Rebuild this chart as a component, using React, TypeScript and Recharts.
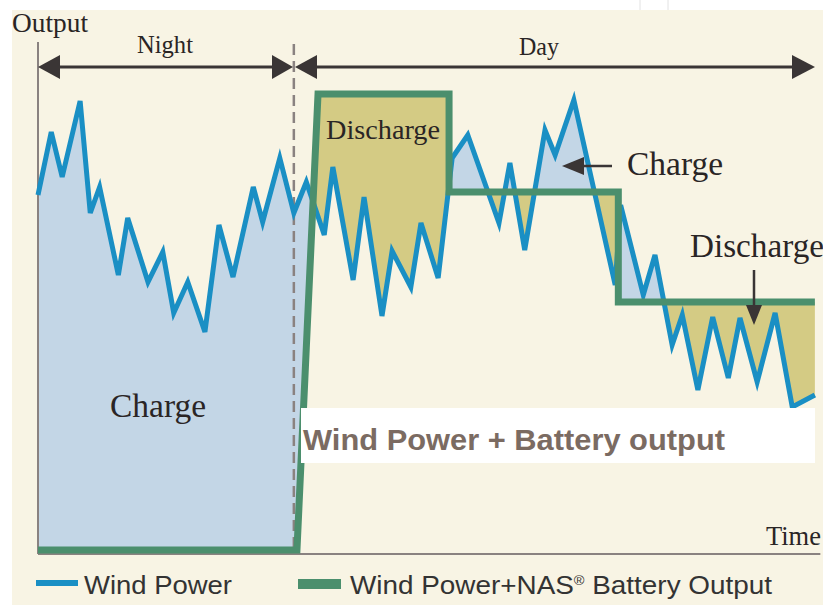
import { ComposedChart, Area, Line, XAxis, YAxis, ReferenceLine } from 'recharts';

// Wind power (blue line) vertices: time and output
const windTime = [0, 1.7, 3.1, 5.4, 6.7, 7.9, 10.3, 11.5, 14.1, 16.0, 17.4, 19.2, 21.4, 23.2, 25.0, 27.6, 28.8, 31.0, 32.8, 34.4, 36.7, 37.8, 40.4, 41.8, 44.1, 45.4, 47.8, 49.1, 51.3, 53.1, 55.1, 59.1, 60.5, 62.4, 65.0, 66.3, 68.7, 74.0, 74.7, 77.6, 79.1, 81.3, 82.6, 84.6, 86.5, 88.5, 90.0, 92.2, 94.5, 96.7, 99.6];
const windPower = [71.0, 83.6, 74.6, 89.8, 67.4, 72.6, 55.0, 66.4, 53.6, 59.6, 47.4, 53.6, 43.6, 65.0, 54.6, 72.6, 65.6, 78.4, 67.4, 73.6, 63.0, 76.6, 54.0, 70.6, 46.8, 59.8, 52.6, 65.4, 54.4, 78.4, 83.0, 65.4, 77.4, 60.0, 84.0, 79.0, 90.0, 53.0, 69.0, 51.0, 59.0, 41.0, 47.0, 32.0, 46.6, 34.4, 46.4, 33.6, 47.4, 28.6, 31.0];

// Wind power + NAS battery output (green step line)
const outTime = [0, 33.2, 35.9, 52.7, 52.7, 74.4, 74.4, 99.6];
const outPower = [0, 0, 91.2, 91.2, 71.6, 71.6, 49.6, 49.6];

const nightEnd = 32.8;

const lerp = (ts: number[], vs: number[], t: number) => {
  for (let i = 0; i < ts.length - 1; i++) {
    if (t >= ts[i] && t <= ts[i + 1] && ts[i + 1] > ts[i]) {
      return vs[i] + ((vs[i + 1] - vs[i]) * (t - ts[i])) / (ts[i + 1] - ts[i]);
    }
  }
  return vs[vs.length - 1];
};

// merge both series on one time grid (steps give two rows at the same time)
const times = Array.from(new Set([...windTime, ...outTime])).sort((a, b) => a - b);
const base: any[] = [];
times.forEach((t) => {
  const w = lerp(windTime, windPower, t);
  const steps = outTime.map((x, i) => (x === t ? outPower[i] : null)).filter((v) => v !== null);
  if (steps.length > 1) steps.forEach((o) => base.push({ t, w, o }));
  else base.push({ t, w, o: lerp(outTime, outPower, t) });
});

// add the points where the two lines cross so the fills split cleanly
const rows: any[] = [];
base.forEach((r, i) => {
  if (i > 0) {
    const p = base[i - 1];
    const d1 = p.w - p.o;
    const d2 = r.w - r.o;
    if (d1 * d2 < 0 && r.t > p.t) {
      const f = d1 / (d1 - d2);
      const v = p.w + f * (r.w - p.w);
      rows.push({ t: p.t + f * (r.t - p.t), w: v, o: v });
    }
  }
  rows.push(r);
});
rows.forEach((r) => {
  r.charge = [r.o, Math.max(r.w, r.o)];
  r.discharge = [Math.min(r.w, r.o), r.o];
});

const serif = '"Liberation Serif", "Times New Roman", serif';
const sans = '"Liberation Sans", Arial, sans-serif';
const ink = '#2a2525';

export default function App() {
  return (
    <div style={{ position: 'absolute', left: 0, top: 0, width: 823, height: 605, background: '#fff' }}>
      <div style={{ position: 'absolute', left: 12, top: 10, width: 811, height: 595, background: '#f8f4e4' }} />
      <div style={{ position: 'absolute', left: 0, top: 0 }}>
        <ComposedChart width={823} height={605} data={rows} margin={{ top: 50, right: 5, bottom: 50, left: 38 }}>
          <XAxis type="number" dataKey="t" domain={[0, 100]} hide />
          <YAxis type="number" domain={[-1, 100]} hide />
          <Area type="linear" dataKey="charge" fill="#c3d6e6" fillOpacity={1} stroke="none" isAnimationActive={false} />
          <Area type="linear" dataKey="discharge" fill="#d4cb84" fillOpacity={1} stroke="none" isAnimationActive={false} />
          <ReferenceLine segment={[{ x: nightEnd, y: 0.4 }, { x: nightEnd, y: 102.4 }]} stroke="#8a8280" strokeWidth={2.5} strokeDasharray="11 6" ifOverflow="visible" />
          <ReferenceLine segment={[{ x: 0, y: -0.8 }, { x: 0, y: 101.6 }]} stroke="#8a8280" strokeWidth={2} ifOverflow="visible" />
          <ReferenceLine segment={[{ x: 0, y: -0.8 }, { x: 100.3, y: -0.8 }]} stroke="#8a8280" strokeWidth={2} ifOverflow="visible" />
          <Line type="linear" dataKey="w" stroke="#1a8fc4" strokeWidth={5} dot={false} isAnimationActive={false} />
          <Line type="linear" dataKey="o" stroke="#4b8f6d" strokeWidth={7} dot={false} isAnimationActive={false} />
        </ComposedChart>
      </div>
      <svg width={823} height={605} style={{ position: 'absolute', left: 0, top: 0, pointerEvents: 'none' }}>
        <line x1={640} y1={0} x2={640} y2={10} stroke="#e2e2e2" strokeWidth={1} />
        <line x1={668} y1={0} x2={668} y2={10} stroke="#e2e2e2" strokeWidth={1} />
        <text x={12} y={32} fontFamily={serif} fontSize={27} fill={ink} textLength={76} lengthAdjust="spacingAndGlyphs">Output</text>
        <text x={137} y={53} fontFamily={serif} fontSize={25} fill={ink} textLength={56} lengthAdjust="spacingAndGlyphs">Night</text>
        <text x={519} y={55} fontFamily={serif} fontSize={25} fill={ink} textLength={40} lengthAdjust="spacingAndGlyphs">Day</text>
        {/* night / day arrows */}
        <line x1={55} y1={67} x2={280} y2={67} stroke="#3a3535" strokeWidth={3} />
        <polygon points="38,67 60,55 60,79" fill="#3a3535" />
        <polygon points="293,67 272,55 272,79" fill="#3a3535" />
        <line x1={310} y1={67} x2={800} y2={67} stroke="#3a3535" strokeWidth={3} />
        <polygon points="295,67 317,55 317,79" fill="#3a3535" />
        <polygon points="815,67 792,55 792,79" fill="#3a3535" />
        <text x={326} y={139} fontFamily={serif} fontSize={28} fill={ink} textLength={114} lengthAdjust="spacingAndGlyphs">Discharge</text>
        <line x1={578} y1={166} x2={612} y2={166} stroke="#3a3535" strokeWidth={2.5} />
        <polygon points="562,166 584,157 584,175" fill="#3a3535" />
        <text x={627} y={175} fontFamily={serif} fontSize={33} fill={ink} textLength={96} lengthAdjust="spacingAndGlyphs">Charge</text>
        <text x={690} y={257} fontFamily={serif} fontSize={33} fill={ink} textLength={134} lengthAdjust="spacingAndGlyphs">Discharge</text>
        <line x1={754} y1={270} x2={754} y2={310} stroke="#3a3535" strokeWidth={2.5} />
        <polygon points="754,325 746,305 762,305" fill="#3a3535" />
        <text x={110} y={417} fontFamily={serif} fontSize={33} fill={ink} textLength={96} lengthAdjust="spacingAndGlyphs">Charge</text>
        <text x={766} y={545} fontFamily={serif} fontSize={27} fill={ink} textLength={55} lengthAdjust="spacingAndGlyphs">Time</text>
        <rect x={301} y={408} width={514} height={55} fill="#ffffff" />
        <text x={303} y={450} fontFamily={sans} fontWeight="bold" fontSize={30} fill="#7b6b62" textLength={422} lengthAdjust="spacingAndGlyphs">Wind Power + Battery output</text>
        {/* legend */}
        <rect x={36} y={580} width={42} height={6} fill="#1a8fc4" />
        <text x={84} y={594} fontFamily={sans} fontSize={25} fill="#333" textLength={148} lengthAdjust="spacingAndGlyphs">Wind Power</text>
        <rect x={298} y={579} width={43} height={10} fill="#4b8f6d" />
        <text x={350} y={594} fontFamily={sans} fontSize={25} fill="#333" textLength={422} lengthAdjust="spacingAndGlyphs">
          Wind Power+NAS<tspan fontSize={13} dy={-9}>®</tspan><tspan dy={9}> Battery Output</tspan>
        </text>
      </svg>
    </div>
  );
}
